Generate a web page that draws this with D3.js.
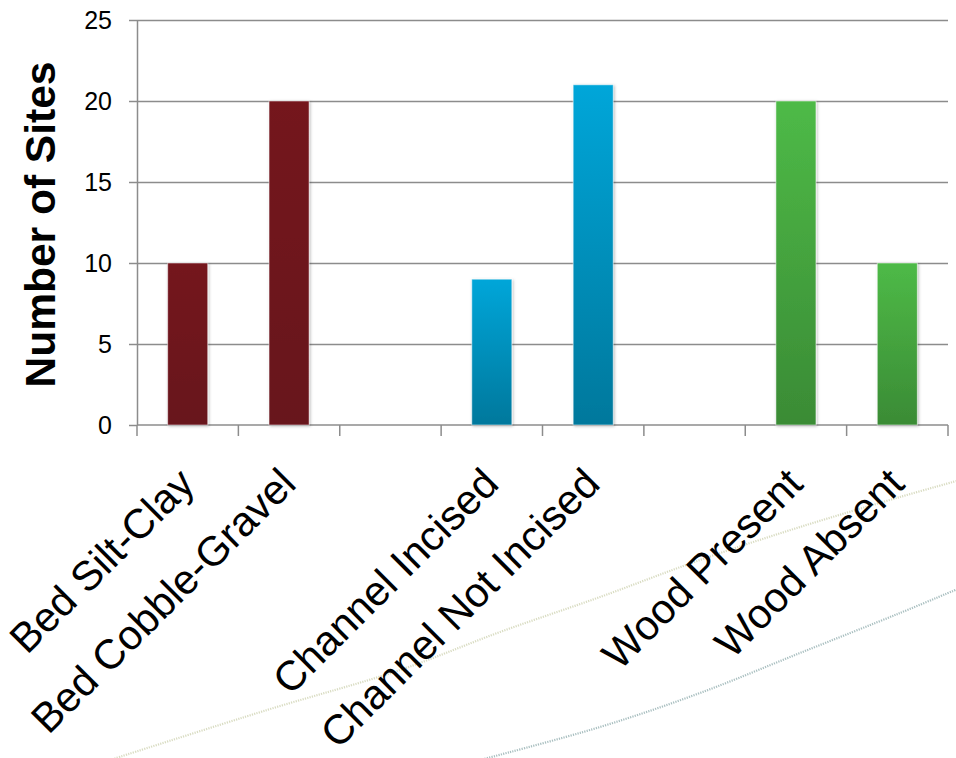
<!DOCTYPE html>
<html>
<head>
<meta charset="utf-8">
<script src="https://cdn.jsdelivr.net/npm/d3@7/dist/d3.min.js"></script>
<style>
  html, body { margin: 0; padding: 0; background: #ffffff; }
  svg { display: block; font-family: "Liberation Sans", Arial, sans-serif; }
</style>
</head>
<body>
<svg id="chart" width="956" height="758"></svg>
<script>
// ---- data ----
const categories = ["Bed Silt-Clay", "Bed Cobble-Gravel", "", "Channel Incised", "Channel Not Incised", "", "Wood Present", "Wood Absent"];
const values = [10, 20, null, 9, 21, null, 20, 10];
const groups = ["Bed", "Bed", null, "Channel", "Channel", null, "Wood", "Wood"];
const yTicks = [0, 5, 10, 15, 20, 25];
const yTitle = "Number of Sites";

// decorative background swooshes (template ornament, not data)
const decorUpper = [[110, 760], [267, 710], [400, 670], [500, 632], [600, 597], [700, 560], [800, 527], [900, 497], [960, 480]];
const decorLower = [[480, 760], [600, 727], [700, 693], [800, 653], [900, 613], [960, 588]];

// ---- styles ----
const groupColors = {
  Bed: ["#74161f", "#68121b"],
  Channel: ["#00a6d9", "#00789c"],
  Wood: ["#4eba47", "#3a8b35"]
};

const svg = d3.select("#chart");
const margin = { left: 137, right: 8, top: 20, bottom: 333 };
const W = 956, H = 758;

const x = d3.scaleBand().domain(d3.range(categories.length)).range([margin.left, W - margin.right]).padding(0);
const y = d3.scaleLinear().domain([0, 25]).range([H - margin.bottom, margin.top]);

const defs = svg.append("defs");
Object.entries(groupColors).forEach(([k, c]) => {
  const g = defs.append("linearGradient").attr("id", "grad-" + k)
    .attr("x1", 0).attr("y1", 0).attr("x2", 0).attr("y2", 1);
  g.append("stop").attr("offset", "0%").attr("stop-color", c[0]);
  g.append("stop").attr("offset", "100%").attr("stop-color", c[1]);
});
const f = defs.append("filter").attr("id", "shadow").attr("x", "-30%").attr("y", "-10%").attr("width", "160%").attr("height", "120%");
f.append("feDropShadow").attr("dx", 1).attr("dy", 1).attr("stdDeviation", 1.8).attr("flood-color", "#000").attr("flood-opacity", 0.28);

// decorative swooshes
const deco = d3.line().curve(d3.curveCatmullRom);
svg.append("path").attr("d", deco(decorUpper)).attr("fill", "none")
  .attr("stroke", "#d9dcc2").attr("stroke-width", 2.2).attr("stroke-dasharray", "1.2,1.2");
svg.append("path").attr("d", deco(decorLower)).attr("fill", "none")
  .attr("stroke", "#a9bfc0").attr("stroke-width", 2.2).attr("stroke-dasharray", "1.2,1.2");

// gridlines
svg.append("g")
  .attr("transform", `translate(${margin.left},0)`)
  .call(d3.axisLeft(y).tickValues(yTicks.filter(t => t > 0)).tickSize(-(W - margin.right - margin.left)).tickFormat(""))
  .call(g => g.select(".domain").remove())
  .call(g => g.selectAll("line").attr("stroke", "#8c8c8c").attr("stroke-width", 1.5));

// y axis
svg.append("g")
  .attr("transform", `translate(${margin.left},0)`)
  .call(d3.axisLeft(y).tickValues(yTicks).tickSize(8).tickPadding(17).tickSizeOuter(0))
  .call(g => g.select(".domain").attr("stroke", "#8c8c8c").attr("stroke-width", 1.5))
  .call(g => g.selectAll("line").attr("stroke", "#8c8c8c").attr("stroke-width", 1.5))
  .call(g => g.selectAll("text").attr("font-size", 25).attr("fill", "#000")
    .attr("font-family", "'Liberation Sans', Arial, sans-serif"));

// x axis line and boundary ticks
const xBound = d3.range(categories.length).map(i => x(i)).concat([x.range()[1]]);
const xg = svg.append("g");
xg.append("line").attr("x1", margin.left).attr("x2", W - margin.right)
  .attr("y1", y(0)).attr("y2", y(0)).attr("stroke", "#8c8c8c").attr("stroke-width", 1.5);
xg.selectAll("line.tk").data(xBound).join("line").attr("class", "tk")
  .attr("x1", d => d).attr("x2", d => d).attr("y1", y(0)).attr("y2", y(0) + 11)
  .attr("stroke", "#8c8c8c").attr("stroke-width", 1.5);

// bars
const bw = x.bandwidth() * 0.395;
svg.append("g").selectAll("rect")
  .data(values.map((v, i) => ({ v, i, g: groups[i] })).filter(d => d.v != null))
  .join("rect")
  .attr("x", d => x(d.i) + x.bandwidth() / 2 - bw / 2)
  .attr("width", bw)
  .attr("y", d => y(d.v))
  .attr("height", d => y(0) - y(d.v))
  .attr("fill", d => `url(#grad-${d.g})`)
  .attr("stroke", "#ffffff").attr("stroke-opacity", 0.5).attr("stroke-width", 1)
  .attr("filter", "url(#shadow)");

// category labels
svg.append("g").selectAll("text")
  .data(categories.map((c, i) => ({ c, i })).filter(d => d.c !== ""))
  .join("text")
  .attr("transform", d => `translate(${x(d.i) + x.bandwidth() / 2 + 9},${y(0) + 61}) rotate(-45)`)
  .attr("text-anchor", "end")
  .attr("font-size", 41.5)
  .attr("fill", "#000")
  .text(d => d.c);

// y title
svg.append("text")
  .attr("transform", `translate(55,${(y(0) + y(25)) / 2 + 2}) rotate(-90)`)
  .attr("text-anchor", "middle")
  .attr("font-size", 42.5)
  .attr("font-weight", "bold")
  .attr("fill", "#000")
  .text(yTitle);
</script>
</body>
</html>
